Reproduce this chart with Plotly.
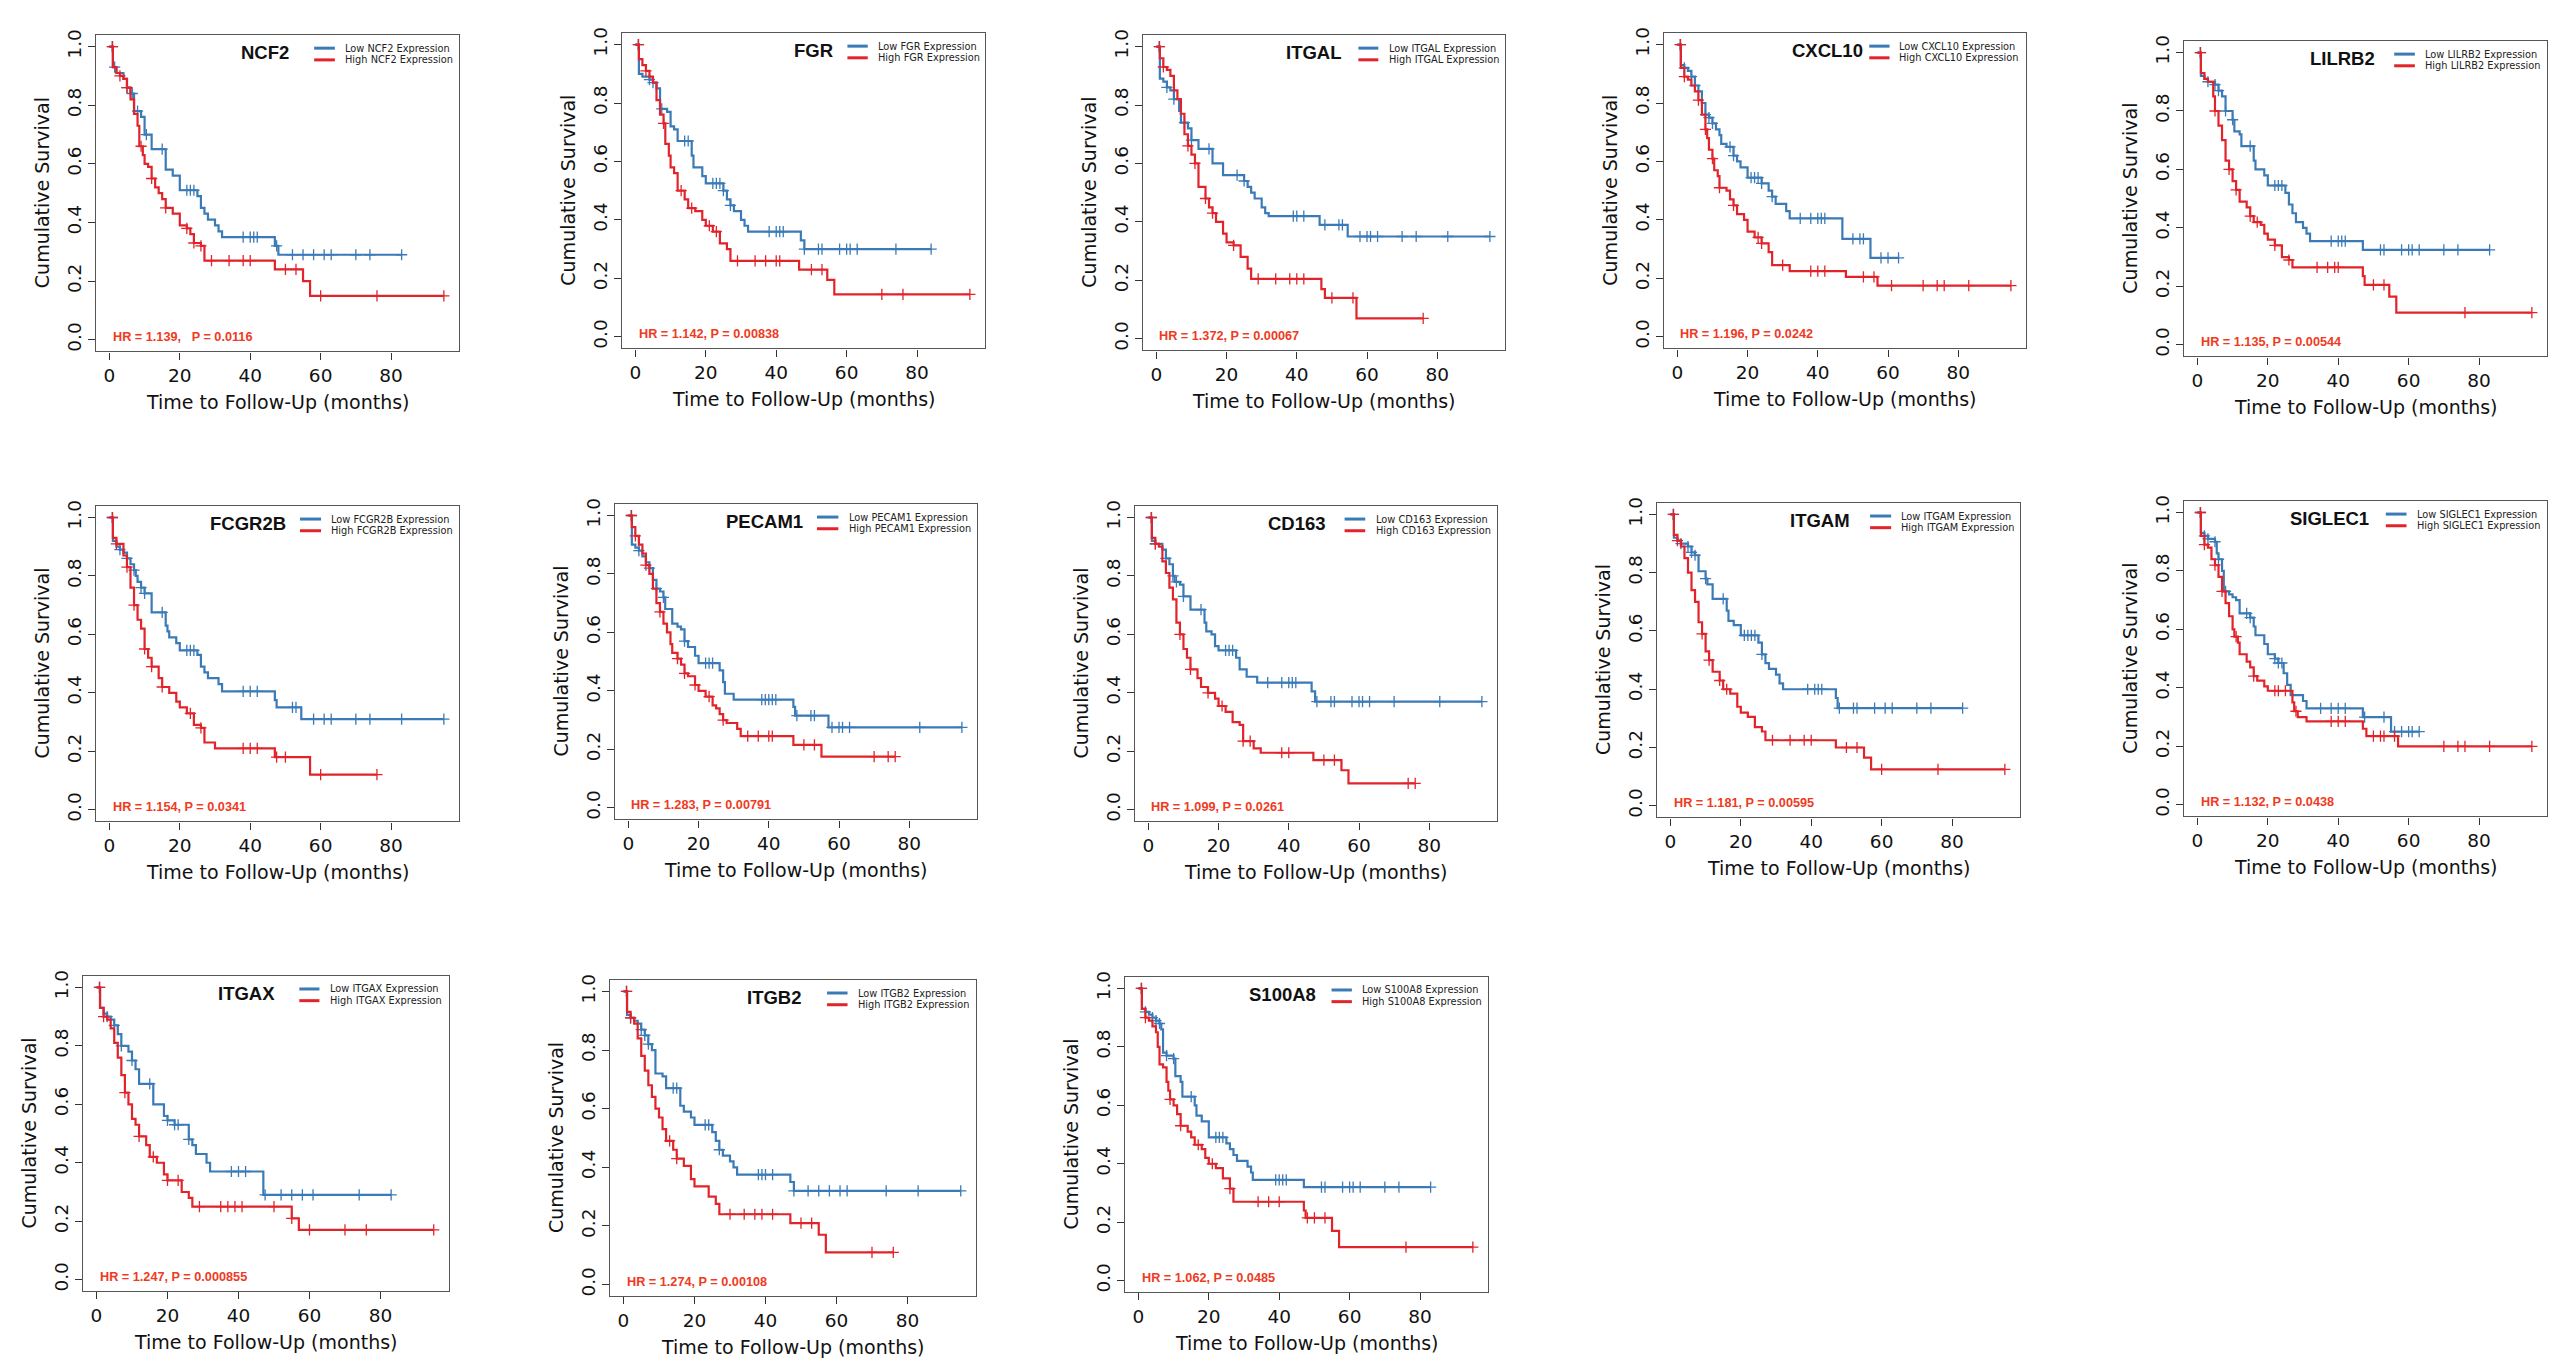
import plotly.graph_objects as go
from bisect import bisect_right

W, H = 2560, 1368
BLUE = "#3a7ab6"
RED = "#e2232a"
HR_COLOR = "#f03a22"

GENES = ["NCF2", "FGR", "ITGAL", "CXCL10", "LILRB2",
         "FCGR2B", "PECAM1", "CD163", "ITGAM", "SIGLEC1",
         "ITGAX", "ITGB2", "S100A8"]
HR_LABELS = ["HR = 1.139,\u00a0\u00a0\u00a0P = 0.0116", "HR = 1.142, P = 0.00838",
             "HR = 1.372, P = 0.00067", "HR = 1.196, P = 0.0242",
             "HR = 1.135, P = 0.00544", "HR = 1.154, P = 0.0341",
             "HR = 1.283, P = 0.00791", "HR = 1.099, P = 0.0261",
             "HR = 1.181, P = 0.00595", "HR = 1.132, P = 0.0438",
             "HR = 1.247, P = 0.000855", "HR = 1.274, P = 0.00108",
             "HR = 1.062, P = 0.0485"]
X_TICKS = [0, 20, 40, 60, 80]
Y_TICKS = [0.0, 0.2, 0.4, 0.6, 0.8, 1.0]

# ---- Kaplan-Meier step data: event times (t), survival after event (s), censor times (c)
NCF2_low_t = [1, 2, 4, 5, 6, 7, 9, 10, 12, 16, 18, 20, 25, 26, 27, 28, 30, 31, 32, 47, 48]
NCF2_low_s = [0.93, 0.91, 0.89, 0.86, 0.84, 0.78, 0.76, 0.70, 0.65, 0.58, 0.56, 0.51, 0.49, 0.45, 0.43, 0.41, 0.39, 0.37, 0.35, 0.32, 0.29]
NCF2_low_c = [0.8, 1.5, 5, 6.5, 8, 10.5, 15, 22, 23, 24, 38, 40, 41, 42, 47.5, 52, 55, 58, 61, 63, 70, 74, 83]
NCF2_high_t = [1, 2, 3, 4, 5, 6, 7, 8, 8.5, 9.5, 10, 11, 12, 13, 14, 15, 16, 18, 20, 22, 23, 24, 26, 27, 47, 55, 57]
NCF2_high_s = [0.93, 0.91, 0.90, 0.89, 0.86, 0.82, 0.77, 0.73, 0.66, 0.63, 0.60, 0.59, 0.55, 0.52, 0.50, 0.48, 0.45, 0.43, 0.39, 0.38, 0.36, 0.33, 0.32, 0.27, 0.24, 0.20, 0.15]
NCF2_high_c = [0.9, 3, 5, 9, 12, 16, 22, 24, 26, 29, 34, 38, 40, 50, 53, 60, 76, 95]

FGR_low_t = [1, 2, 4, 5, 6, 7, 9, 10, 11, 12, 16, 16.5, 19, 20, 25, 26, 27, 28, 30, 31, 32, 47, 48]
FGR_low_s = [0.90, 0.89, 0.88, 0.87, 0.85, 0.78, 0.77, 0.72, 0.71, 0.67, 0.62, 0.58, 0.55, 0.525, 0.50, 0.47, 0.45, 0.43, 0.40, 0.38, 0.36, 0.33, 0.30]
FGR_low_c = [0.8, 4, 5, 7.5, 14, 15, 22, 23, 24, 25, 27, 38, 40, 41, 42, 48, 52, 53, 58, 60, 61, 63, 74, 84]
FGR_high_t = [1, 2, 3, 4, 5, 6, 7, 8, 8.5, 9.5, 10, 11, 12, 14, 15, 17, 19, 20, 22, 24, 26, 27, 46.5, 54.5, 56.5]
FGR_high_s = [0.95, 0.93, 0.91, 0.89, 0.87, 0.81, 0.76, 0.73, 0.66, 0.62, 0.58, 0.56, 0.50, 0.47, 0.44, 0.43, 0.40, 0.38, 0.36, 0.32, 0.30, 0.26, 0.23, 0.195, 0.145]
FGR_high_c = [0.9, 3, 8, 13, 16, 21, 23, 29, 34, 37, 40, 41, 50, 53, 70, 76, 95]

ITGAL_low_t = [1, 2, 3, 4, 5, 6.5, 7, 9, 10, 12, 16, 19, 25, 26, 27, 28, 30, 31, 32, 46.5, 54.5]
ITGAL_low_s = [0.89, 0.88, 0.86, 0.85, 0.82, 0.78, 0.74, 0.72, 0.68, 0.65, 0.60, 0.56, 0.54, 0.52, 0.50, 0.48, 0.45, 0.43, 0.42, 0.39, 0.35]
ITGAL_low_c = [0.8, 3, 5, 8, 10, 15, 23, 25, 39, 40, 42, 48, 52, 53, 58, 60, 61, 63, 70, 74, 83, 95]
ITGAL_high_t = [1, 2, 3, 4, 5, 6, 7, 8, 9, 10, 11, 12, 14, 15, 16, 17, 19, 20, 22, 24, 26, 27, 47, 48, 57]
ITGAL_high_s = [0.96, 0.93, 0.92, 0.90, 0.85, 0.82, 0.77, 0.70, 0.66, 0.63, 0.60, 0.52, 0.48, 0.45, 0.43, 0.40, 0.36, 0.33, 0.32, 0.28, 0.24, 0.205, 0.17, 0.14, 0.07]
ITGAL_high_c = [0.9, 2, 9, 11, 14, 16, 22, 29, 34, 38, 40, 42, 50, 56, 76]

CXCL10_low_t = [1, 2, 3, 4, 5, 6, 7, 8, 9, 10, 11, 12, 12.5, 14, 16, 17, 18, 20, 24, 26, 27, 28, 31, 32, 47, 55]
CXCL10_low_s = [0.93, 0.92, 0.91, 0.89, 0.86, 0.84, 0.80, 0.76, 0.75, 0.73, 0.71, 0.69, 0.66, 0.65, 0.62, 0.60, 0.58, 0.545, 0.525, 0.50, 0.48, 0.455, 0.43, 0.405, 0.335, 0.27]
CXCL10_low_c = [0.8, 2, 4, 5, 8, 9, 10, 15, 16, 21, 22, 23, 24, 27, 35, 38, 40, 41, 42, 50, 52, 53, 58, 60, 63]
CXCL10_high_t = [1, 2, 3, 4, 5, 6, 7, 8, 8.5, 9, 10, 10.5, 11.5, 12, 14, 15, 16, 17, 19, 20, 22, 24, 26, 27, 32, 48, 57]
CXCL10_high_s = [0.92, 0.89, 0.88, 0.86, 0.84, 0.81, 0.76, 0.71, 0.68, 0.64, 0.61, 0.57, 0.55, 0.51, 0.50, 0.47, 0.45, 0.42, 0.40, 0.36, 0.34, 0.32, 0.29, 0.245, 0.225, 0.205, 0.175]
CXCL10_high_c = [0.9, 2, 6, 8, 10, 12, 16, 23, 24, 30, 38, 40, 42, 53, 56, 61, 70, 74, 76, 83, 95]

LILRB2_low_t = [1, 2, 3, 5, 6, 7, 8, 10, 10.5, 12, 12.5, 16, 16.5, 19, 20, 25, 26, 27, 28, 30, 31, 32, 47]
LILRB2_low_s = [0.92, 0.91, 0.90, 0.89, 0.87, 0.85, 0.80, 0.77, 0.73, 0.72, 0.68, 0.63, 0.60, 0.58, 0.545, 0.52, 0.48, 0.45, 0.42, 0.40, 0.38, 0.355, 0.325]
LILRB2_low_c = [0.8, 3, 5, 6, 8, 10, 15, 22, 23, 24, 38, 40, 41, 42, 52, 53, 58, 60, 61, 63, 70, 74, 83]
LILRB2_high_t = [1, 2, 3, 4.5, 5, 6, 7, 8, 9, 10, 11, 12, 14, 15, 16, 18, 19, 20, 22, 24, 26, 27, 47, 47.5, 54.5, 56.5]
LILRB2_high_s = [0.93, 0.91, 0.90, 0.85, 0.80, 0.75, 0.70, 0.63, 0.60, 0.56, 0.53, 0.49, 0.47, 0.44, 0.42, 0.41, 0.38, 0.36, 0.34, 0.30, 0.29, 0.265, 0.235, 0.205, 0.165, 0.11]
LILRB2_high_c = [0.9, 5, 9, 11, 15, 17, 22, 26, 34, 37, 39, 40, 50, 53, 76, 95]

FCGR2B_low_t = [1, 2, 3, 4, 5, 6, 7, 7.5, 8, 9, 10, 12, 16, 16.5, 17, 19, 20, 25, 26, 27, 28, 31, 32, 47, 47.5, 54.5]
FCGR2B_low_s = [0.92, 0.90, 0.89, 0.88, 0.86, 0.84, 0.82, 0.80, 0.78, 0.76, 0.74, 0.675, 0.63, 0.61, 0.59, 0.57, 0.545, 0.53, 0.49, 0.47, 0.45, 0.43, 0.405, 0.375, 0.35, 0.31]
FCGR2B_low_c = [0.8, 3, 5, 7, 9, 10, 15, 22, 23, 24, 38, 40, 42, 52, 53, 58, 61, 63, 70, 74, 83, 95]
FCGR2B_high_t = [1, 2, 4, 5, 6, 7, 8, 9, 10, 11, 12, 14, 15, 17, 19, 20, 22, 24, 26, 27, 30, 47, 57]
FCGR2B_high_s = [0.93, 0.91, 0.87, 0.83, 0.76, 0.70, 0.65, 0.62, 0.55, 0.52, 0.49, 0.45, 0.42, 0.40, 0.37, 0.35, 0.33, 0.29, 0.28, 0.23, 0.21, 0.18, 0.12]
FCGR2B_high_c = [0.9, 2, 5, 7, 10, 12, 15, 23, 26, 38, 40, 42, 47.5, 50, 60, 76]

PECAM1_low_t = [1, 2, 3, 4, 5, 6, 7, 8, 9, 10, 10.5, 12.5, 14, 15, 16, 17, 19, 20, 26, 27, 27.5, 30, 47, 47.5, 57]
PECAM1_low_s = [0.90, 0.89, 0.88, 0.86, 0.84, 0.82, 0.78, 0.75, 0.74, 0.72, 0.68, 0.63, 0.62, 0.61, 0.57, 0.55, 0.52, 0.495, 0.47, 0.43, 0.39, 0.37, 0.345, 0.315, 0.275]
PECAM1_low_c = [0.8, 3, 6, 8, 10, 16, 22, 23, 24, 38, 39, 40, 41, 42, 48, 52, 53, 58, 60, 61, 63, 83, 95]
PECAM1_high_t = [1, 2, 3, 4, 5, 6, 7, 8, 9, 10, 11, 12, 12.5, 14, 15, 16, 17, 19, 20, 22, 24, 25, 26, 27, 28, 31, 32, 47, 55]
PECAM1_high_s = [0.96, 0.93, 0.90, 0.87, 0.83, 0.80, 0.75, 0.70, 0.67, 0.63, 0.60, 0.56, 0.53, 0.51, 0.49, 0.46, 0.45, 0.42, 0.40, 0.38, 0.35, 0.34, 0.32, 0.30, 0.29, 0.27, 0.245, 0.215, 0.175]
PECAM1_high_c = [0.9, 2, 5, 9, 14, 16, 19, 23, 27, 34, 37, 40, 41, 50, 53, 70, 74, 76]

CD163_low_t = [1, 2, 4, 5, 6, 7, 7.5, 9, 10, 12, 16, 16.5, 18, 19, 20, 25, 26, 28, 31, 46.5, 47.5]
CD163_low_s = [0.92, 0.91, 0.89, 0.86, 0.84, 0.80, 0.78, 0.77, 0.73, 0.685, 0.64, 0.61, 0.60, 0.56, 0.545, 0.52, 0.48, 0.455, 0.435, 0.405, 0.37]
CD163_low_c = [0.8, 2, 5, 7, 8, 10, 15, 22, 23, 24, 34, 38, 40, 41, 42, 48, 52, 53, 58, 60, 61, 63, 70, 83, 95]
CD163_high_t = [1, 2, 3, 4, 5, 6, 7, 8, 9, 10, 11, 12, 14, 15, 17, 19, 20, 22, 24, 26, 27, 30, 32, 47, 55, 57]
CD163_high_s = [0.93, 0.91, 0.90, 0.85, 0.81, 0.76, 0.72, 0.64, 0.60, 0.55, 0.52, 0.48, 0.45, 0.42, 0.40, 0.38, 0.355, 0.335, 0.30, 0.29, 0.235, 0.21, 0.195, 0.17, 0.135, 0.09]
CD163_high_c = [0.9, 2, 9, 12, 17, 21, 27, 29, 38, 40, 50, 53, 74, 76]

ITGAM_low_t = [1, 2, 3, 5, 6, 7, 8, 10, 10.5, 12, 16, 16.5, 18, 20, 25, 26, 27, 28, 30, 31, 32, 47, 47.5]
ITGAM_low_s = [0.92, 0.91, 0.90, 0.89, 0.87, 0.86, 0.805, 0.78, 0.76, 0.71, 0.67, 0.635, 0.62, 0.585, 0.56, 0.52, 0.49, 0.47, 0.45, 0.42, 0.40, 0.37, 0.335]
ITGAM_low_c = [0.8, 3, 5, 6, 7, 10, 15, 21, 22, 23, 24, 26, 39, 41, 42, 43, 48, 52, 53, 58, 61, 63, 70, 74, 83]
ITGAM_high_t = [1, 2, 3, 4, 5, 6, 7, 8, 9, 10, 11, 12, 14, 15, 17, 19, 20, 22, 24, 26, 27, 47, 55, 57]
ITGAM_high_s = [0.93, 0.91, 0.89, 0.85, 0.80, 0.74, 0.70, 0.63, 0.59, 0.53, 0.50, 0.46, 0.43, 0.40, 0.385, 0.34, 0.32, 0.305, 0.27, 0.255, 0.225, 0.20, 0.165, 0.125]
ITGAM_high_c = [0.9, 2, 9, 11, 14, 16, 29, 34, 38, 40, 50, 53, 60, 76, 95]

SIGLEC1_low_t = [1, 2, 3, 5, 5.5, 6, 7, 7.5, 9, 10, 11, 12, 15, 16, 16.5, 19, 20, 22, 23, 24.5, 25.5, 26.5, 30, 31, 47, 55]
SIGLEC1_low_s = [0.93, 0.92, 0.91, 0.90, 0.86, 0.84, 0.80, 0.73, 0.72, 0.71, 0.70, 0.655, 0.64, 0.61, 0.58, 0.55, 0.515, 0.50, 0.485, 0.45, 0.41, 0.375, 0.355, 0.33, 0.30, 0.25]
SIGLEC1_low_c = [0.8, 2, 3, 5, 6, 8, 14, 15, 22, 23, 24, 35, 38, 40, 42, 47.5, 53, 56, 58, 60, 61, 63]
SIGLEC1_high_t = [1, 2, 3, 4, 5, 6, 7, 8, 9, 10, 10.5, 11.5, 12, 14, 15, 16, 17, 19, 20, 27, 27.5, 28.5, 31, 47, 48, 57]
SIGLEC1_high_s = [0.92, 0.89, 0.88, 0.84, 0.82, 0.78, 0.73, 0.69, 0.645, 0.60, 0.575, 0.555, 0.515, 0.49, 0.47, 0.44, 0.425, 0.405, 0.39, 0.35, 0.32, 0.30, 0.285, 0.26, 0.235, 0.20]
SIGLEC1_high_c = [0.9, 2, 5, 7, 11, 16, 22, 23, 25, 28, 38, 40, 42, 50, 52, 53, 56, 70, 74, 76, 83, 95]

ITGAX_low_t = [1, 2, 3, 4, 5, 6, 7, 9, 10, 11, 12, 16, 19, 20, 22, 26, 27, 28, 31, 32, 47]
ITGAX_low_s = [0.93, 0.91, 0.90, 0.89, 0.87, 0.84, 0.80, 0.78, 0.75, 0.72, 0.67, 0.60, 0.56, 0.545, 0.53, 0.48, 0.46, 0.43, 0.40, 0.37, 0.29]
ITGAX_low_c = [0.8, 3, 5, 7, 10, 15, 20, 22, 23, 26, 38, 40, 42, 47.5, 52, 55, 58, 61, 74, 83]
ITGAX_high_t = [1, 2, 3, 4, 5, 6, 7, 8, 9, 10, 11, 12, 14, 15, 17, 19, 20, 24, 26, 27, 55, 57]
ITGAX_high_s = [0.93, 0.90, 0.89, 0.86, 0.81, 0.76, 0.70, 0.64, 0.60, 0.55, 0.53, 0.49, 0.46, 0.42, 0.40, 0.36, 0.34, 0.30, 0.28, 0.25, 0.21, 0.17]
ITGAX_high_c = [0.9, 2, 8, 12, 16, 20, 23, 29, 35, 37, 39, 41, 50, 55, 60, 70, 76, 95]

ITGB2_low_t = [1, 2, 3, 4, 5, 6, 7, 8, 9, 11, 12, 16, 17, 19, 20, 25, 26, 27, 28, 30, 31, 32, 47, 48]
ITGB2_low_s = [0.92, 0.91, 0.90, 0.89, 0.87, 0.85, 0.82, 0.80, 0.72, 0.71, 0.67, 0.61, 0.59, 0.57, 0.545, 0.52, 0.49, 0.46, 0.44, 0.42, 0.40, 0.375, 0.35, 0.32]
ITGB2_low_c = [0.8, 2, 5, 6, 7, 14, 15, 23, 24, 27, 38, 39, 40, 42, 48, 52, 55, 58, 61, 63, 74, 83, 95]
ITGB2_high_t = [1, 2, 3, 4, 5, 6, 7, 8, 9, 10, 11, 12, 14, 15, 17, 19, 20, 24, 26, 27, 47, 55, 57]
ITGB2_high_s = [0.93, 0.91, 0.89, 0.84, 0.78, 0.73, 0.68, 0.64, 0.60, 0.57, 0.53, 0.49, 0.46, 0.43, 0.405, 0.36, 0.335, 0.30, 0.275, 0.24, 0.21, 0.17, 0.11]
ITGB2_high_c = [0.9, 2, 13, 15, 30, 34, 37, 39, 42, 50, 53, 70, 76]

S100A8_low_t = [1, 2, 3, 4, 5, 6, 6.5, 7, 8, 10, 10.5, 12, 12.5, 16, 16.5, 18, 20, 25, 26, 27, 28, 31, 32, 32.5, 47]
S100A8_low_s = [0.93, 0.92, 0.91, 0.90, 0.89, 0.88, 0.86, 0.78, 0.77, 0.76, 0.70, 0.68, 0.63, 0.60, 0.565, 0.545, 0.49, 0.47, 0.45, 0.43, 0.41, 0.39, 0.37, 0.345, 0.32]
S100A8_low_c = [0.8, 2, 4, 5, 6, 8, 10, 15, 22, 23, 24, 39, 40, 41, 42, 52, 53, 58, 60, 61, 63, 70, 74, 83]
S100A8_high_t = [1, 2, 3, 4, 5, 5.5, 6, 7, 8, 8.5, 9, 10, 11, 12, 14, 15, 16, 18, 19, 20, 22, 24, 26, 27, 47, 47.5, 55, 57]
S100A8_high_s = [0.93, 0.90, 0.89, 0.87, 0.85, 0.80, 0.74, 0.73, 0.68, 0.65, 0.62, 0.60, 0.57, 0.53, 0.51, 0.49, 0.465, 0.45, 0.42, 0.40, 0.385, 0.35, 0.315, 0.27, 0.24, 0.215, 0.17, 0.115]
S100A8_high_c = [0.9, 2, 9, 12, 17, 21, 26, 34, 37, 40, 48, 50, 53, 76, 95]

SERIES = {g: ((globals()[g + "_low_t"], globals()[g + "_low_s"], globals()[g + "_low_c"]),
              (globals()[g + "_high_t"], globals()[g + "_high_s"], globals()[g + "_high_c"]))
          for g in GENES}

# ---- layout: plot boxes in pixels (left, right, top, bottom)
BOXES = [(96, 459, 29, 347), (622, 985, 27, 344), (1143, 1505, 29, 346), (1664, 2026, 27, 344), (2184, 2547, 35, 352),
         (96, 459, 502, 819), (615, 977, 500, 817), (1135, 1497, 502, 819), (1657, 2020, 499, 815), (2184, 2547, 497, 814),
         (83, 449, 974, 1291), (610, 976, 978, 1296), (1125, 1488, 975, 1292)]
# legend line start, line end, text start, gene label right edge (fractions of box width)
LEG_POS = [(0.601, 0.658, 0.681, 0.536), (0.621, 0.677, 0.700, 0.586), (0.595, 0.650, 0.674, 0.556),
           (0.567, 0.623, 0.645, 0.554), (0.579, 0.636, 0.659, 0.531), (0.562, 0.620, 0.643, 0.528),
           (0.558, 0.617, 0.640, 0.525), (0.579, 0.636, 0.659, 0.532), (0.587, 0.645, 0.667, 0.538),
           (0.556, 0.613, 0.636, 0.514), (0.591, 0.646, 0.670, 0.530), (0.593, 0.649, 0.672, 0.528),
           (0.569, 0.625, 0.647, 0.532)]

AX_FONT = "DejaVu Sans"
fig = go.Figure()
annotations = []
shapes = []

def surv_at(t, s, c):
    i = bisect_right(t, c)
    return 1.0 if i == 0 else s[i - 1]

for i, gene in enumerate(GENES):
    n = i + 1
    xa = "x" if n == 1 else f"x{n}"
    ya = "y" if n == 1 else f"y{n}"
    for (t, s, c), col in zip(SERIES[gene], (BLUE, RED)):
        end = max(t[-1], c[-1])
        fig.add_trace(go.Scatter(x=[0] + t + [end], y=[1.0] + s + [s[-1]], mode="lines",
                                 line=dict(color=col, width=2.2, shape="hv"),
                                 xaxis=xa, yaxis=ya, showlegend=False, hoverinfo="skip"))
        fig.add_trace(go.Scatter(x=c, y=[surv_at(t, s, ct) for ct in c], mode="markers",
                                 marker=dict(symbol="cross-thin", size=8, line=dict(color=col, width=1.3)),
                                 xaxis=xa, yaxis=ya, showlegend=False, hoverinfo="skip"))
    L, R, T, B = BOXES[i]
    common = dict(showline=True, mirror=True, linecolor="#555555", linewidth=1.2,
                  ticks="outside", ticklen=7, tickwidth=1.2, tickcolor="#333333",
                  showgrid=False, zeroline=False, tickfont=dict(family=AX_FONT, size=18.5, color="#111111"))
    fig.update_layout(**{
        ("xaxis" if n == 1 else f"xaxis{n}"): dict(domain=[L / W, R / W], anchor=ya, range=[-3.8, 99.3],
                                                  tickvals=X_TICKS, ticktext=[str(v) for v in X_TICKS], **common),
        ("yaxis" if n == 1 else f"yaxis{n}"): dict(domain=[1 - B / H, 1 - T / H], anchor=xa, range=[-0.04, 1.04],
                                                  tickvals=Y_TICKS, ticktext=[f"{v:.1f}" for v in Y_TICKS],
                                                  tickangle=-90, **common),
    })
    xd, yd = f"{xa} domain", f"{ya} domain"
    lx0, lx1, tx, gr = LEG_POS[i]
    rows = (0.958, 0.921)
    for (label, col), ry in zip(((f"Low {gene} Expression", BLUE), (f"High {gene} Expression", RED)), rows):
        shapes.append(dict(type="line", xref=xd, yref=yd, x0=lx0, x1=lx1, y0=ry, y1=ry,
                           line=dict(color=col, width=3)))
        annotations.append(dict(xref=xd, yref=yd, x=tx, y=ry, text=label, showarrow=False,
                                xanchor="left", yanchor="middle",
                                font=dict(family=AX_FONT, size=9.8, color="#222222")))
    annotations.append(dict(xref=xd, yref=yd, x=gr, y=0.944, text=f"<b>{gene}</b>", showarrow=False,
                            xanchor="right", yanchor="middle",
                            font=dict(family="Liberation Sans", size=18.5, color="#111111")))
    annotations.append(dict(xref=xd, yref=yd, x=0.04, y=0.046, text=f"<b>{HR_LABELS[i]}</b>", showarrow=False,
                            xanchor="left", yanchor="middle",
                            font=dict(family="Liberation Sans", size=12.7, color=HR_COLOR)))
    annotations.append(dict(xref=xd, yref=yd, x=0.5, y=0, yshift=-51, text="Time to Follow-Up (months)",
                            showarrow=False, xanchor="center", yanchor="middle",
                            font=dict(family=AX_FONT, size=19, color="#111111")))
    annotations.append(dict(xref=xd, yref=yd, x=0, xshift=-54, y=0.5, text="Cumulative Survival",
                            textangle=-90, showarrow=False, xanchor="center", yanchor="middle",
                            font=dict(family=AX_FONT, size=19, color="#111111")))

fig.update_layout(width=W, height=H, autosize=False, margin=dict(l=0, r=0, t=0, b=0),
                  paper_bgcolor="white", plot_bgcolor="white",
                  annotations=annotations, shapes=shapes, showlegend=False)

fig.write_html("out.html", config={"displayModeBar": False},
               post_script="document.body.style.margin='0';document.body.style.overflow='hidden';")
